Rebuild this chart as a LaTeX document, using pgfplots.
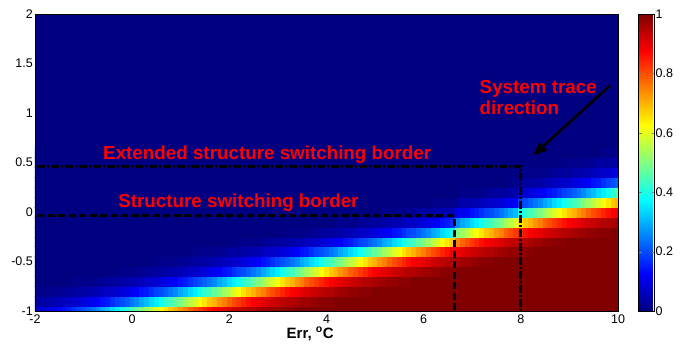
\documentclass[border=0pt]{standalone}
\usepackage{fontspec}
\setmainfont{Liberation Sans}
\usepackage{pgfplots}
\usepackage{pgfplotstable}
\pgfplotsset{compat=1.18}
\usetikzlibrary{arrows.meta}

\definecolor{jetlow}{RGB}{0,0,128}

% one heat-map cell: 0.1 x 0.1 data units on a 583pt x 297pt axis
\pgfdeclareplotmark{cell}{%
  \pgfpathrectangle{\pgfqpoint{-2.43pt}{-4.95pt}}{\pgfqpoint{4.86pt}{9.9pt}}%
  \pgfusepathqfillstroke}

\pgfplotsset{
  heatcell/.style={scatter, only marks, mark=cell, point meta=explicit,
    scatter/use mapped color={draw=mapped color, fill=mapped color}},
  border/.style={black, line width=3pt, line cap=butt},
}
\tikzset{
  note/.style={anchor=base west, inner sep=0pt, text=red,
    font=\bfseries\fontsize{18.8}{20}\selectfont},
}

\begin{document}
% membership grade: one line per row of cells (y = -1, -0.9, ..., 0.6),
% one column per cell centre in x (-2, -1.9, ..., 10)
\pgfplotstableread[header=has colnames]{
y -2 -1.9 -1.8 -1.7 -1.6 -1.5 -1.4 -1.3 -1.2 -1.1 -1 -0.9 -0.8 -0.7 -0.6 -0.5 -0.4 -0.3 -0.2 -0.1 0 0.1 0.2 0.3 0.4 0.5 0.6 0.7 0.8 0.9 1 1.1 1.2 1.3 1.4 1.5 1.6 1.7 1.8 1.9 2 2.1 2.2 2.3 2.4 2.5 2.6 2.7 2.8 2.9 3 3.1 3.2 3.3 3.4 3.5 3.6 3.7 3.8 3.9 4 4.1 4.2 4.3 4.4 4.5 4.6 4.7 4.8 4.9 5 5.1 5.2 5.3 5.4 5.5 5.6 5.7 5.8 5.9 6 6.1 6.2 6.3 6.4 6.5 6.6 6.7 6.8 6.9 7 7.1 7.2 7.3 7.4 7.5 7.6 7.7 7.8 7.9 8 8.1 8.2 8.3 8.4 8.5 8.6 8.7 8.8 8.9 9 9.1 9.2 9.3 9.4 9.5 9.6 9.7 9.8 9.9 10
r0 0.07 0.08  0.09 0.1 0.11 0.12 0.14 0.15 0.17 0.19 0.2 0.22  0.24 0.26 0.29 0.31 0.34 0.36 0.39 0.42 0.44 0.47  0.5 0.53 0.56 0.59 0.62 0.65 0.68 0.7 0.73 0.75  0.78 0.8 0.82 0.84 0.86 0.88 0.89 0.9 0.91 0.92  0.93 0.94 0.95 0.95 0.96 0.97 0.97 0.98 0.98 0.99  0.99 0.99  1 1 1 1 1 1 1 1 1 1  1 1 1 1 1 1 1 1 1 1  1 1 1 1 1 1 1 1 1 1  1 1 1 1 1 1 1 1 1 1  1 1 1 1 1 1 1 1 1 1  1 1 1 1 1 1 1 1 1 1  1 1 1 1 1 1 1
r1 0.03 0.03 0.04 0.04 0.05 0.05 0.06 0.07 0.07 0.08  0.09 0.1 0.11 0.12 0.14 0.15 0.17 0.19 0.2 0.22  0.24 0.26 0.29 0.31 0.34 0.36 0.39 0.42 0.44 0.47  0.5 0.53 0.56 0.59 0.62 0.65 0.68 0.7 0.73 0.75  0.78 0.8 0.82 0.84 0.86 0.88 0.89 0.9 0.91 0.92  0.93 0.94 0.95 0.95 0.96 0.97 0.97 0.98 0.98 0.99  0.99 0.99  1 1 1 1 1 1 1 1 1 1  1 1 1 1 1 1 1 1 1 1  1 1 1 1 1 1 1 1 1 1  1 1 1 1 1 1 1 1 1 1  1 1 1 1 1 1 1 1 1 1  1 1 1 1 1 1 1 1 1
r2 0.01 0.01 0.01 0.01 0.01 0.02 0.02 0.03  0.03 0.03 0.04 0.04 0.05 0.05 0.06 0.07 0.07 0.08  0.09 0.1 0.11 0.12 0.14 0.15 0.17 0.19 0.2 0.22  0.24 0.26 0.29 0.31 0.34 0.36 0.39 0.42 0.44 0.47  0.5 0.53 0.56 0.59 0.62 0.65 0.68 0.7 0.73 0.75  0.78 0.8 0.82 0.84 0.86 0.88 0.89 0.9 0.91 0.92  0.93 0.94 0.95 0.95 0.96 0.97 0.97 0.98 0.98 0.99  0.99 0.99  1 1 1 1 1 1 1 1 1 1  1 1 1 1 1 1 1 1 1 1  1 1 1 1 1 1 1 1 1 1  1 1 1 1 1 1 1 1 1 1  1 1 1 1 1 1 1 1 1 1  1
r3 0 0 0 0 0 0  0 0 0.01 0.01 0.01 0.01 0.01 0.02 0.02 0.03  0.03 0.03 0.04 0.04 0.05 0.05 0.06 0.07 0.07 0.08  0.09 0.1 0.11 0.12 0.14 0.15 0.17 0.19 0.2 0.22  0.24 0.26 0.29 0.31 0.34 0.36 0.39 0.42 0.44 0.47  0.5 0.53 0.56 0.59 0.62 0.65 0.68 0.7 0.73 0.75  0.78 0.8 0.82 0.84 0.86 0.88 0.89 0.9 0.91 0.92  0.93 0.94 0.95 0.95 0.96 0.97 0.97 0.98 0.98 0.99  0.99 0.99  1 1 1 1 1 1 1 1 1 1  1 1 1 1 1 1 1 1 1 1  1 1 1 1 1 1 1 1 1 1  1 1 1 1 1 1 1 1 1 1  1 1 1
r4 0 0 0 0 0 0 0 0 0 0  0 0 0 0 0  0 0 0.01 0.01 0.01 0.01 0.01 0.02 0.02 0.03  0.03 0.03 0.04 0.04 0.05 0.05 0.06 0.07 0.07 0.08  0.09 0.1 0.11 0.12 0.14 0.15 0.17 0.19 0.2 0.22  0.24 0.26 0.29 0.31 0.34 0.36 0.39 0.42 0.44 0.47  0.5 0.53 0.56 0.59 0.62 0.65 0.68 0.7 0.73 0.75  0.78 0.8 0.82 0.84 0.86 0.88 0.89 0.9 0.91 0.92  0.93 0.94 0.95 0.95 0.96 0.97 0.97 0.98 0.98 0.99  0.99 0.99  1 1 1 1 1 1 1 1 1 1  1 1 1 1 1 1 1 1 1 1  1 1 1 1 1 1 1 1 1 1  1 1 1 1
r5 0 0 0 0 0 0 0 0 0 0  0 0 0 0 0 0 0 0 0 0  0 0 0  0 0 0.01 0.01 0.01 0.01 0.01 0.02 0.02 0.03  0.03 0.03 0.04 0.04 0.05 0.05 0.06 0.07 0.07 0.08  0.09 0.1 0.11 0.12 0.14 0.15 0.17 0.19 0.2 0.22  0.24 0.26 0.29 0.31 0.34 0.36 0.39 0.42 0.44 0.47  0.5 0.53 0.56 0.59 0.62 0.65 0.68 0.7 0.73 0.75  0.78 0.8 0.82 0.84 0.86 0.88 0.89 0.9 0.91 0.92  0.93 0.94 0.95 0.95 0.96 0.97 0.97 0.98 0.98 0.99  0.99 0.99  1 1 1 1 1 1 1 1 1 1  1 1 1 1 1 1 1 1 1 1  1 1 1 1 1 1
r6 0 0 0 0 0 0 0 0 0 0  0 0 0 0 0 0 0 0 0 0  0 0 0 0 0 0 0 0 0 0  0  0 0 0.01 0.01 0.01 0.01 0.01 0.02 0.02 0.03  0.03 0.03 0.04 0.04 0.05 0.05 0.06 0.07 0.07 0.08  0.09 0.1 0.11 0.12 0.14 0.15 0.17 0.19 0.2 0.22  0.24 0.26 0.29 0.31 0.34 0.36 0.39 0.42 0.44 0.47  0.5 0.53 0.56 0.59 0.62 0.65 0.68 0.7 0.73 0.75  0.78 0.8 0.82 0.84 0.86 0.88 0.89 0.9 0.91 0.92  0.93 0.94 0.95 0.95 0.96 0.97 0.97 0.98 0.98 0.99  0.99 0.99  1 1 1 1 1 1 1 1 1 1  1 1 1 1 1 1 1 1
r7 0 0 0 0 0 0 0 0 0 0  0 0 0 0 0 0 0 0 0 0  0 0 0 0 0 0 0 0 0 0  0 0 0 0 0 0 0 0 0 0  0 0 0.01 0.01 0.01 0.01 0.01 0.02 0.02 0.03  0.03 0.03 0.04 0.04 0.05 0.05 0.06 0.07 0.07 0.08  0.09 0.1 0.11 0.12 0.14 0.15 0.17 0.19 0.2 0.22  0.24 0.26 0.29 0.31 0.34 0.36 0.39 0.42 0.44 0.47  0.5 0.53 0.56 0.59 0.62 0.65 0.68  0.75  0.78 0.8 0.82 0.84 0.86 0.88 0.89 0.9 0.91 0.92  0.93 0.94 0.95 0.95 0.96 0.97 0.97 0.98 0.98 0.99  0.99 0.99  1 1 1 1 1 1 1 1 1 1  1
r8 0 0 0 0 0 0 0 0 0 0  0 0 0 0 0 0 0 0 0 0  0 0 0 0 0 0 0 0 0 0  0 0 0 0 0 0 0 0 0 0  0 0 0 0 0 0 0 0 0 0  0 0 0.01 0.01 0.01 0.01 0.01 0.02 0.02 0.03  0.03 0.03 0.04 0.04 0.05 0.05 0.06 0.07 0.07 0.08  0.09 0.1 0.11 0.12 0.14 0.15 0.17 0.19 0.2 0.22  0.24 0.26 0.29 0.31 0.34 0.36 0.39  0.5 0.53 0.56 0.59 0.62 0.65 0.68 0.7 0.73 0.75  0.78 0.8 0.82 0.84 0.86 0.88 0.89 0.9 0.91 0.92  0.93 0.94 0.95 0.95 0.96 0.97 0.97 0.98 0.98 0.99  0.99 0.99  1 1
r9 0 0 0 0 0 0 0 0 0 0  0 0 0 0 0 0 0 0 0 0  0 0 0 0 0 0 0 0 0 0  0 0 0 0 0 0 0 0 0 0  0 0 0 0 0 0 0 0 0 0  0 0 0 0 0 0 0 0 0 0  0 0 0.01 0.01 0.01 0.01 0.01 0.02 0.02 0.03  0.03 0.03 0.04 0.04 0.05 0.05 0.06 0.07 0.07 0.08  0.09 0.1 0.11 0.12 0.14 0.15 0.17  0.26 0.29 0.31 0.34 0.36 0.39 0.42 0.44 0.47 0.5 0.53 0.56 0.59  0.65 0.68 0.7 0.73 0.75  0.78 0.8 0.82 0.84 0.86 0.88 0.89 0.9 0.91 0.92  0.93 0.94 0.95 0.95 0.96 0.97
r10 0 0 0 0 0 0 0 0 0 0  0 0 0 0 0 0 0 0 0 0  0 0 0 0 0 0 0 0 0 0  0 0 0 0 0 0 0 0 0 0  0 0 0 0 0 0 0 0 0 0  0 0 0 0 0 0 0 0 0 0  0 0 0 0 0 0 0 0 0 0  0 0 0.01 0.01 0.01 0.01 0.01 0.02 0.02 0.03  0.03 0.03 0.04 0.04 0.05 0.05 0.06  0.1 0.11 0.12 0.14 0.15 0.17 0.19 0.2 0.22 0.24 0.26 0.29 0.31  0.39 0.42 0.44 0.47  0.5 0.53 0.56 0.59 0.62 0.65 0.68 0.7 0.73 0.75  0.78 0.8 0.82 0.84 0.86 0.88 0.89
r11 0 0 0 0 0 0 0 0 0 0  0 0 0 0 0 0 0 0 0 0  0 0 0 0 0 0 0 0 0 0  0 0 0 0 0 0 0 0 0 0  0 0 0 0 0 0 0 0 0 0  0 0 0 0 0 0 0 0 0 0  0 0 0 0 0 0 0 0 0 0  0 0 0 0 0 0 0 0 0 0  0 0  0.01 0.01 0.01 0.01 0.01  0.03 0.04 0.04 0.05 0.05 0.06 0.07 0.07 0.08 0.09 0.1 0.11 0.12  0.19 0.2 0.22  0.24 0.26 0.29 0.31 0.34 0.36 0.39 0.42 0.44 0.47  0.5 0.53 0.56 0.59 0.62 0.65 0.68 0.7
r12 0 0 0 0 0 0 0 0 0 0  0 0 0 0 0 0 0 0 0 0  0 0 0 0 0 0 0 0 0 0  0 0 0 0 0 0 0 0 0 0  0 0 0 0 0 0 0 0 0 0  0 0 0 0 0 0 0 0 0 0  0 0 0 0 0 0 0 0 0 0  0 0 0 0 0 0 0 0 0 0  0 0 0 0 0 0 0 0  0.01 0.01 0.01 0.01 0.01 0.02 0.02 0.03 0.03 0.03 0.04 0.04  0.07 0.08  0.09 0.1 0.11 0.12 0.14 0.15 0.17 0.19 0.2 0.22  0.24 0.26 0.29 0.31 0.34 0.36 0.39 0.42 0.44
r13 0 0 0 0 0 0 0 0 0 0  0 0 0 0 0 0 0 0 0 0  0 0 0 0 0 0 0 0 0 0  0 0 0 0 0 0 0 0 0 0  0 0 0 0 0 0 0 0 0 0  0 0 0 0 0 0 0 0 0 0  0 0 0 0 0 0 0 0 0 0  0 0 0 0 0 0 0 0 0 0  0 0 0 0 0 0 0 0 0 0  0 0 0 0 0 0 0 0  0.01 0.01  0.03  0.03 0.03 0.04 0.04 0.05 0.05 0.06 0.07 0.07 0.08  0.09 0.1 0.11 0.12 0.14 0.15 0.17 0.19 0.2 0.22
r14 0 0 0 0 0 0 0 0 0 0  0 0 0 0 0 0 0 0 0 0  0 0 0 0 0 0 0 0 0 0  0 0 0 0 0 0 0 0 0 0  0 0 0 0 0 0 0 0 0 0  0 0 0 0 0 0 0 0 0 0  0 0 0 0 0 0 0 0 0 0  0 0 0 0 0 0 0 0 0 0  0 0 0 0 0 0 0 0 0 0  0 0 0 0 0 0 0 0 0 0  0  0.01 0.01 0.01 0.01 0.01 0.02 0.02 0.03  0.03 0.03 0.04 0.04 0.05 0.05 0.06 0.07 0.07 0.08  0.09 0.1
r15 0 0 0 0 0 0 0 0 0 0  0 0 0 0 0 0 0 0 0 0  0 0 0 0 0 0 0 0 0 0  0 0 0 0 0 0 0 0 0 0  0 0 0 0 0 0 0 0 0 0  0 0 0 0 0 0 0 0 0 0  0 0 0 0 0 0 0 0 0 0  0 0 0 0 0 0 0 0 0 0  0 0 0 0 0 0 0 0 0 0  0 0 0 0 0 0 0 0 0 0  0 0 0 0 0 0 0 0 0  0.01 0.01 0.01 0.01 0.01 0.02 0.02 0.03 0.03 0.03 0.04 0.04
r16 0 0 0 0 0 0 0 0 0 0  0 0 0 0 0 0 0 0 0 0  0 0 0 0 0 0 0 0 0 0  0 0 0 0 0 0 0 0 0 0  0 0 0 0 0 0 0 0 0 0  0 0 0 0 0 0 0 0 0 0  0 0 0 0 0 0 0 0 0 0  0 0 0 0 0 0 0 0 0 0  0 0 0 0 0 0 0 0 0 0  0 0 0 0 0 0 0 0 0 0  0 0 0 0 0 0 0 0 0 0  0 0 0 0 0 0 0  0.01 0.01 0.01 0.01
}\raw
\pgfplotstabletranspose[colnames from=y, input colnames to=x]\heat\raw

\begin{tikzpicture}
\useasboundingbox (-35pt,-40pt) rectangle (655pt,311pt);
\begin{axis}[
  at={(0,0)}, anchor=south west,
  scale only axis, width=583pt, height=297pt,
  xmin=-2, xmax=10, ymin=-1, ymax=2,
  xtick={-2,0,2,4,6,8,10}, ytick={-1,-0.5,0,0.5,1,1.5,2},
  major tick length=0pt,
  tick label style={font=\fontsize{12.5}{14}\selectfont},
  /pgf/number format/assume math mode=true,
  yticklabel style={inner xsep=2pt},
  xlabel={\textbf{Err, \textsuperscript{o}C}},
  xlabel style={font=\fontsize{15}{17}\selectfont,
    at={(axis description cs:0.472,0)}, anchor=base, yshift=-27pt},
  axis on top,
  clip marker paths=true,
  colormap/jet,
  point meta min=0, point meta max=1,
  colorbar,
  colorbar style={
    at={(parent axis.north east)}, anchor=north west, xshift=12pt,
    width=16pt,
    ytick={0,0.2,0.4,0.6,0.8,1},
    major tick length=3pt, tick align=inside,
    yticklabel style={font=\fontsize{12.5}{14}\selectfont, inner xsep=1pt},
    /pgf/number format/assume math mode=true,
  },
]
% cell rows, bottom (y = -1) to top (y = 0.6)
\addplot[heatcell] table[x=x, y expr=-1,   meta=r0]  {\heat};
\addplot[heatcell] table[x=x, y expr=-0.9, meta=r1]  {\heat};
\addplot[heatcell] table[x=x, y expr=-0.8, meta=r2]  {\heat};
\addplot[heatcell] table[x=x, y expr=-0.7, meta=r3]  {\heat};
\addplot[heatcell] table[x=x, y expr=-0.6, meta=r4]  {\heat};
\addplot[heatcell] table[x=x, y expr=-0.5, meta=r5]  {\heat};
\addplot[heatcell] table[x=x, y expr=-0.4, meta=r6]  {\heat};
\addplot[heatcell] table[x=x, y expr=-0.3, meta=r7]  {\heat};
\addplot[heatcell] table[x=x, y expr=-0.2, meta=r8]  {\heat};
\addplot[heatcell] table[x=x, y expr=-0.1, meta=r9]  {\heat};
\addplot[heatcell] table[x=x, y expr=0,    meta=r10] {\heat};
\addplot[heatcell] table[x=x, y expr=0.1,  meta=r11] {\heat};
\addplot[heatcell] table[x=x, y expr=0.2,  meta=r12] {\heat};
\addplot[heatcell] table[x=x, y expr=0.3,  meta=r13] {\heat};
\addplot[heatcell] table[x=x, y expr=0.4,  meta=r14] {\heat};
\addplot[heatcell] table[x=x, y expr=0.5,  meta=r15] {\heat};
\addplot[heatcell] table[x=x, y expr=0.6,  meta=r16] {\heat};
% grade 0 everywhere above y = 0.65
\addplot[fill=jetlow, draw=none] coordinates {(-2,0.65) (10,0.65) (10,2) (-2,2)} -- cycle;

% switching borders
\addplot[border, dash pattern=on 7pt off 3.5pt]
  coordinates {(-1.95,-0.04) (6.63,-0.04) (6.63,-1)};
\addplot[border, dash pattern=on 8pt off 2pt on 2pt off 2pt]
  coordinates {(-1.95,0.46) (8,0.46) (8,-1)};
% trace direction
\addplot[black, line width=2.5pt, -{Triangle[length=14pt,width=11pt]}]
  coordinates {(9.84,1.28) (8.25,0.57)};

\node[note] at (axis cs:-0.6,0.53) {Extended structure switching border};
\node[note] at (axis cs:-0.29,0.045) {Structure switching border};
\node[note] at (axis cs:7.15,1.195) {System trace};
\node[note] at (axis cs:7.15,0.98) {direction};
\end{axis}
\end{tikzpicture}
\end{document}
